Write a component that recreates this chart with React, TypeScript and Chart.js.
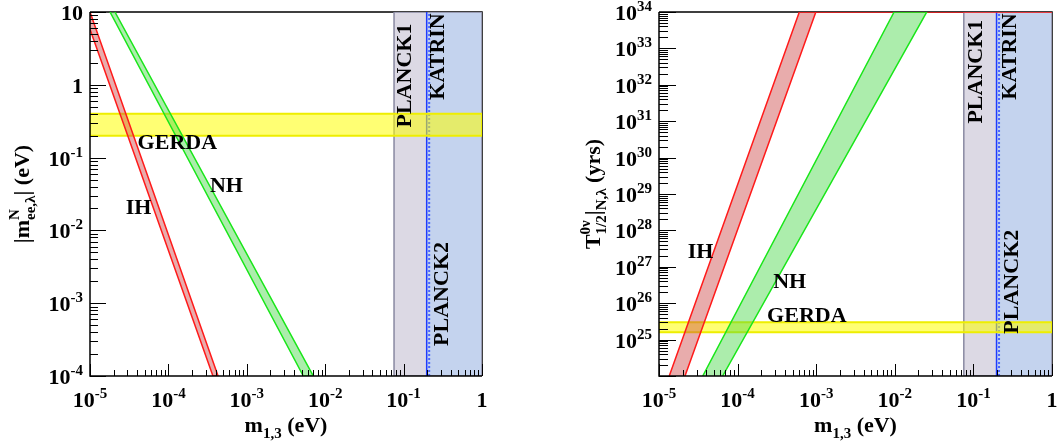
import React, { useEffect, useRef } from "react";
import { Chart, registerables } from "chart.js";

Chart.register(...registerables);

const FONT = '"Liberation Serif", "Times New Roman", serif';
const H = 447;

// ---------- axis ticks ----------
const xTickValues = [1e-5, 1e-4, 1e-3, 1e-2, 1e-1, 1];
const xTickBase = ["10", "10", "10", "10", "10", "1"];
const xTickSup = ["-5", "-4", "-3", "-2", "-1", ""];

const leftYTickValues = [10, 1, 1e-1, 1e-2, 1e-3, 1e-4];
const leftYTickBase = ["10", "1", "10", "10", "10", "10"];
const leftYTickSup = ["", "", "-1", "-2", "-3", "-4"];

const rightYTickValues = [1e25, 1e26, 1e27, 1e28, 1e29, 1e30, 1e31, 1e32, 1e33, 1e34];
const rightYTickBase = ["10", "10", "10", "10", "10", "10", "10", "10", "10", "10"];
const rightYTickSup = ["25", "26", "27", "28", "29", "30", "31", "32", "33", "34"];

// ---------- shared limits ----------
const xRange = [1e-5, 1];
const leftYRange = [1e-4, 10];
const rightYRange = [1e24, 1e34];
const planck1Edge = [0.0755];
const katrinEdge = [0.197];
const katrinDotted = [0.212];

// ---------- left panel: |m_ee| ----------
const leftIHUpperX = [1e-5, 4.3e-4];
const leftIHUpperY = [10, 1e-4];
const leftIHLowerX = [1e-5, 3.7e-4];
const leftIHLowerY = [5.8, 1e-4];
const leftNHLeftX = [1.8e-5, 5.26e-3];
const leftNHLeftY = [10, 1e-4];
const leftNHRightX = [2.08e-5, 7.05e-3];
const leftNHRightY = [10, 1e-4];
const leftGerdaY = [0.2, 0.4];

const leftNoteText = ["GERDA", "NH", "IH", "PLANCK1", "KATRIN", "PLANCK2"];
const leftNoteX = [1.3e-4, 5.5e-4, 4.16e-5, 0.101, 0.263, 0.304];
const leftNoteY = [0.164, 0.0426, 0.0207, 1.34, 2.45, 1.34e-3];

// ---------- right panel: half-life ----------
const rightIHLeftX = [1.35e-5, 6.1e-4, 1];
const rightIHLeftY = [1e24, 1e34, 1e34];
const rightIHRightX = [2.14e-5, 9.9e-4, 1];
const rightIHRightY = [1e24, 1e34, 1e34];
const rightNHLeftX = [3.6e-5, 9.8e-3];
const rightNHLeftY = [1e24, 1e34];
const rightNHRightX = [6.45e-5, 0.0255];
const rightNHRightY = [1e24, 1e34];
const rightGerdaY = [1.6e25, 3.0e25];

const rightNoteText = ["GERDA", "NH", "IH", "PLANCK1", "KATRIN", "PLANCK2"];
const rightNoteX = [7.6e-4, 4.6e-4, 3.37e-5, 0.106, 0.28, 0.3];
const rightNoteY = [4.6e25, 4.2e26, 2.8e27, 2.3e32, 6e32, 3.9e26];

const noteRotated = [false, false, false, true, true, true];

// ---------- helpers ----------
const pts = (xs: number[], ys: number[]) => xs.map((x, i) => ({ x, y: ys[i] }));
const band = (xa: number[], ya: number[], xb: number[], yb: number[]) => [
  ...pts(xa, ya),
  ...pts(xb, yb).reverse(),
];
const rect = (x0: number, x1: number, y0: number, y1: number) =>
  pts([x1, x0, x0, x1, x1], [y0, y0, y1, y1, y0]);

type Run = { t: string; s: number; dy: number };
type Item = Run | Run[];

function itemWidth(ctx: CanvasRenderingContext2D, it: Item) {
  const runs = Array.isArray(it) ? it : [it];
  let w = 0;
  for (const r of runs) {
    ctx.font = `bold ${r.s}px ${FONT}`;
    w = Math.max(w, ctx.measureText(r.t).width);
  }
  return w;
}

function drawRich(
  ctx: CanvasRenderingContext2D,
  items: Item[],
  x: number,
  y: number,
  align: "left" | "center" | "right",
  rotate = false
) {
  ctx.save();
  ctx.translate(x, y);
  if (rotate) ctx.rotate(-Math.PI / 2);
  ctx.fillStyle = "#000";
  ctx.textBaseline = "alphabetic";
  ctx.textAlign = "left";
  const widths = items.map((it) => itemWidth(ctx, it));
  const total = widths.reduce((a, b) => a + b, 0);
  let cx = align === "left" ? 0 : align === "center" ? -total / 2 : -total;
  items.forEach((it, i) => {
    const runs = Array.isArray(it) ? it : [it];
    for (const r of runs) {
      ctx.font = `bold ${r.s}px ${FONT}`;
      ctx.fillText(r.t, cx, r.dy);
    }
    cx += widths[i];
  });
  ctx.restore();
}

const BIG = 22;
const SMALL = 15;
const tickItems = (base: string, sup: string): Item[] =>
  sup ? [{ t: base, s: BIG, dy: 0 }, { t: sup, s: SMALL, dy: -9 }] : [{ t: base, s: BIG, dy: 0 }];

function makeDecor(p: any) {
  return {
    id: "decor",
    beforeDatasetsDraw(chart: any) {
      const { ctx, chartArea: a } = chart;
      ctx.save();
      ctx.strokeStyle = "#000";
      ctx.lineWidth = 1.5;
      ctx.beginPath();
      ctx.moveTo(a.left, a.top);
      ctx.lineTo(a.right, a.top);
      ctx.lineTo(a.right, a.bottom);
      ctx.stroke();
      ctx.restore();
    },
    afterDatasetsDraw(chart: any) {
      const { ctx, chartArea: a, scales } = chart;
      const xs = scales.x;
      const ys = scales.y;
      ctx.save();
      ctx.strokeStyle = "#000";
      // ticks
      ctx.lineWidth = 1;
      ctx.beginPath();
      const [x0, x1] = xRange;
      for (let e = Math.round(Math.log10(x0)); e <= Math.round(Math.log10(x1)); e++) {
        for (let k = 1; k <= 9; k++) {
          const v = k * Math.pow(10, e);
          if (v < x0 * 0.999 || v > x1 * 1.001) continue;
          const px = Math.round(xs.getPixelForValue(v)) + 0.5;
          const len = k === 1 ? p.xMajor : p.xMinor;
          ctx.moveTo(px, a.bottom);
          ctx.lineTo(px, a.bottom - len);
        }
      }
      const [y0, y1] = p.yRange;
      for (let e = Math.round(Math.log10(y0)); e <= Math.round(Math.log10(y1)); e++) {
        for (let k = 1; k <= 9; k++) {
          const v = k * Math.pow(10, e);
          if (v < y0 * 0.999 || v > y1 * 1.001) continue;
          const py = Math.round(ys.getPixelForValue(v)) + 0.5;
          const len = k === 1 ? p.yMajor : p.yMinor;
          ctx.moveTo(a.left, py);
          ctx.lineTo(a.left + len, py);
        }
      }
      ctx.stroke();
      // left & bottom axis lines
      ctx.lineWidth = 1.5;
      ctx.beginPath();
      ctx.moveTo(a.left, a.top);
      ctx.lineTo(a.left, a.bottom);
      ctx.lineTo(a.right, a.bottom);
      ctx.stroke();
      ctx.restore();

      // tick labels
      xTickValues.forEach((v, i) => {
        drawRich(ctx, tickItems(xTickBase[i], xTickSup[i]), xs.getPixelForValue(v), 407, "center");
      });
      p.yTickValues.forEach((v: number, i: number) => {
        drawRich(ctx, tickItems(p.yTickBase[i], p.yTickSup[i]), a.left - 7, ys.getPixelForValue(v) + 8, "right");
      });

      // axis titles
      drawRich(
        ctx,
        [
          { t: "m", s: BIG, dy: 0 },
          { t: "1,3", s: SMALL, dy: 6 },
          { t: " (eV)", s: BIG, dy: 0 },
        ],
        (a.left + a.right) / 2,
        432,
        "center"
      );
      drawRich(ctx, p.yTitle, p.yTitleX, (a.top + a.bottom) / 2, "center", true);

      // annotations
      p.noteText.forEach((t: string, i: number) => {
        const px = xs.getPixelForValue(p.noteX[i]);
        const py = ys.getPixelForValue(p.noteY[i]);
        if (noteRotated[i]) {
          drawRich(ctx, [{ t, s: BIG, dy: 0 }], px + 7, py, "center", true);
        } else {
          drawRich(ctx, [{ t, s: BIG, dy: 0 }], px, py + 7, "center");
        }
      });
    },
  };
}

function buildDatasets(p: any) {
  const [xMin, xMax] = xRange;
  const [yMin, yMax] = p.yRange;
  const list: any[] = [
    { data: rect(planck1Edge[0], xMax, yMin, yMax), fill: "shape", backgroundColor: "#dcd9e4", borderWidth: 0 },
    { data: rect(katrinEdge[0], xMax, yMin, yMax), fill: "shape", backgroundColor: "#c4d3ee", borderWidth: 0 },
    { data: rect(planck1Edge[0], xMax, yMin, yMax), fill: false, borderColor: "#8a8aa2", borderWidth: 1.5 },
    { data: pts([katrinEdge[0], katrinEdge[0]], [yMin, yMax]), fill: false, borderColor: "#1f3cff", borderWidth: 1.5 },
    {
      data: pts([katrinDotted[0], katrinDotted[0]], [yMin, yMax]),
      fill: false,
      borderColor: "#4a66ff",
      borderWidth: 2,
      borderDash: [2, 2],
    },
    {
      data: rect(xMin, xMax, p.gerdaY[0], p.gerdaY[1]),
      fill: "shape",
      backgroundColor: "rgba(255,255,0,0.55)",
      borderColor: "#eeee00",
      borderWidth: 2,
    },
    {
      data: p.ih,
      fill: "shape",
      backgroundColor: "rgba(205,70,70,0.45)",
      borderColor: "#ff1a1a",
      borderWidth: 1.5,
    },
    {
      data: p.nh,
      fill: "shape",
      backgroundColor: "rgba(70,215,70,0.45)",
      borderColor: "#19e619",
      borderWidth: 1.5,
    },
  ];
  return list.map((d, i) => ({
    type: "line",
    pointRadius: 0,
    pointHoverRadius: 0,
    tension: 0,
    borderColor: d.borderColor || "rgba(0,0,0,0)",
    order: -i,
    ...d,
  }));
}

function buildConfig(p: any) {
  return {
    type: "line",
    data: { datasets: buildDatasets(p) },
    options: {
      responsive: false,
      animation: false,
      events: [],
      layout: { padding: p.padding },
      plugins: { legend: { display: false }, tooltip: { enabled: false } },
      scales: {
        x: { type: "logarithmic", min: xRange[0], max: xRange[1], display: false },
        y: { type: "logarithmic", min: p.yRange[0], max: p.yRange[1], display: false },
      },
    },
    plugins: [makeDecor(p)],
  };
}

const leftPanel = {
  offset: 0,
  width: 530,
  padding: { left: 90, right: 48, top: 12, bottom: 71 },
  yRange: leftYRange,
  yTickValues: leftYTickValues,
  yTickBase: leftYTickBase,
  yTickSup: leftYTickSup,
  xMajor: 12,
  xMinor: 6,
  yMajor: 16,
  yMinor: 8,
  gerdaY: leftGerdaY,
  ih: band(leftIHUpperX, leftIHUpperY, leftIHLowerX, leftIHLowerY),
  nh: band(leftNHLeftX, leftNHLeftY, leftNHRightX, leftNHRightY),
  noteText: leftNoteText,
  noteX: leftNoteX,
  noteY: leftNoteY,
  yTitleX: 29,
  yTitle: [
    { t: "|m", s: BIG, dy: 0 },
    [
      { t: "N", s: SMALL, dy: -10 },
      { t: "ee,λ", s: SMALL, dy: 6 },
    ],
    { t: "| (eV)", s: BIG, dy: 0 },
  ],
};

const rightPanel = {
  offset: 530,
  width: 531,
  padding: { left: 129, right: 9, top: 12, bottom: 71 },
  yRange: rightYRange,
  yTickValues: rightYTickValues,
  yTickBase: rightYTickBase,
  yTickSup: rightYTickSup,
  xMajor: 12,
  xMinor: 6,
  yMajor: 17,
  yMinor: 9,
  gerdaY: rightGerdaY,
  ih: band(rightIHLeftX, rightIHLeftY, rightIHRightX, rightIHRightY),
  nh: band(rightNHLeftX, rightNHLeftY, rightNHRightX, rightNHRightY),
  noteText: rightNoteText,
  noteX: rightNoteX,
  noteY: rightNoteY,
  yTitleX: 70,
  yTitle: [
    { t: "T", s: BIG, dy: 0 },
    [
      { t: "0ν", s: SMALL, dy: -10 },
      { t: "1/2", s: SMALL, dy: 6 },
    ],
    { t: "|", s: BIG, dy: 0 },
    { t: "N,λ", s: SMALL, dy: 6 },
    { t: " (yrs)", s: BIG, dy: 0 },
  ],
};

function Panel({ cfg }: { cfg: any }) {
  const ref = useRef<HTMLCanvasElement>(null);
  useEffect(() => {
    const chart = new Chart(ref.current as HTMLCanvasElement, buildConfig(cfg) as any);
    return () => chart.destroy();
  }, [cfg]);
  return (
    <canvas
      ref={ref}
      width={cfg.width}
      height={H}
      style={{ position: "absolute", left: cfg.offset, top: 0, width: cfg.width, height: H }}
    />
  );
}

export default function App() {
  return (
    <div style={{ position: "absolute", left: 0, top: 0, width: 1061, height: H, background: "#fff" }}>
      <Panel cfg={leftPanel} />
      <Panel cfg={rightPanel} />
    </div>
  );
}
